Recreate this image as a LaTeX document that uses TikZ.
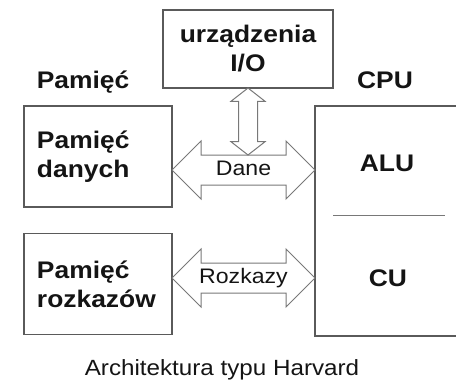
\documentclass[tikz,border=0pt]{standalone}
\usepackage{fontspec}
\setmainfont{Liberation Sans}[FakeStretch=1.1]
\definecolor{myline}{RGB}{90,90,90}
\definecolor{myarrow}{RGB}{120,120,120}
\definecolor{mytext}{RGB}{20,20,20}
\usetikzlibrary{positioning,shapes.arrows}

\begin{document}
\begin{tikzpicture}[x=1pt,y=-1pt,
			box/.style={draw=myline, line width=1.5pt, minimum width=148pt, minimum height=101pt,
				inner sep=0pt, text width=122pt, align=left, lbl},
			lbl/.style={text=mytext, font=\fontsize{24}{29}\selectfont\bfseries},
			frame/.style={draw=myline, line width=1.5pt},
			bus/.style={draw=myarrow, line width=1pt, double arrow, double arrow head extend=14pt,
				minimum height=143pt, inner xsep=0pt, inner ysep=5pt, text height=15pt, text depth=4pt,
				text=mytext, font=\fontsize{21}{24}\selectfont},
			]
			\useasboundingbox (0,0) rectangle (456,384);
			\node[box] (dmem) at (98,156.5) {Pamięć\\danych};
			\node[box] (pmem) at (98,284) {Pamięć\\rozkazów};
			\node[frame, minimum width=170pt, minimum height=78pt, inner sep=0pt, lbl, align=center] (io) at (248,49) {urządzenia\\I/O};
			\node[minimum width=141pt, minimum height=230pt, inner sep=0pt] (cpu) at (385.5,221) {};
			\draw[frame] (cpu.north east) -- (cpu.north west) -- (cpu.south west) -- (cpu.south east);
			\node[lbl] (memlbl) at (83,82) {Pamięć};
			\node[lbl] (cpulbl) at (385,80) {CPU};
			\node[lbl] (alu) at (387,163) {ALU};
			\node[lbl] (cu) at (388,278) {CU};
			\coordinate (div1) at (333,215);
			\coordinate (div2) at (445,215);
			\draw[draw=myarrow, line width=1pt] (div1) -- (div2);
			\node[bus] (dane) at (243.5,170) {Dane};
			\node[bus] (rozkazy) at (243.5,278) {Rozkazy};
			\node[draw=myarrow, line width=1pt, double arrow, rotate=90, double arrow head extend=7.5pt,
				double arrow tip angle=104, minimum height=67pt, inner sep=9pt] (iobus) at (248,121.5) {};
			\node[text=mytext, font=\fontsize{22}{26}\selectfont] (title) at (222,370) {Architektura typu Harvard};
	\end{tikzpicture}
\end{document}
